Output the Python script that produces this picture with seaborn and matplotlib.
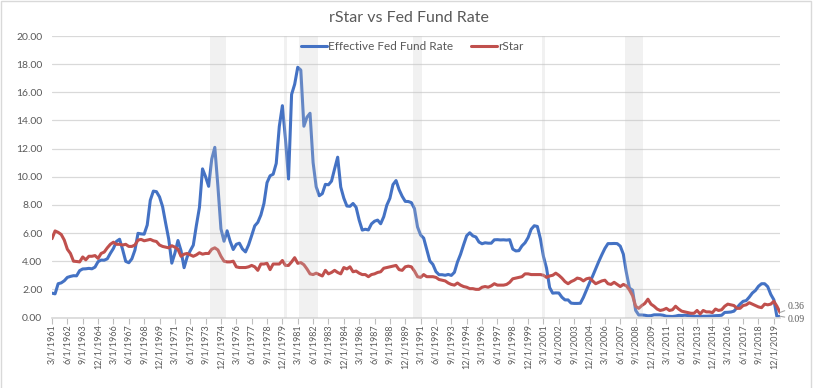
import matplotlib
matplotlib.use("Agg")
import matplotlib.pyplot as plt
import seaborn as sns
import pandas as pd
from matplotlib.patches import Rectangle

# quarterly series, first label 3/1/1961
first_year = 1961
quarter_months = [3, 6, 9, 12]

fed_fund_rate = [
    1.73, 1.68, 2.40, 2.46, 2.61, 2.85, 2.92, 2.97, 2.96, 3.33,
    3.45, 3.46, 3.49, 3.46, 3.58, 3.97, 4.08, 4.07, 4.17, 4.56,
    4.91, 5.41, 5.56, 4.82, 3.99, 3.89, 4.17, 4.79, 5.98, 5.94,
    5.92, 6.57, 8.33, 8.98, 8.94, 8.57, 7.88, 6.70, 5.57, 3.86,
    4.56, 5.47, 4.75, 3.54, 4.30, 4.74, 5.14, 6.54, 7.82, 10.56,
    10.00, 9.32, 11.25, 12.09, 9.35, 6.30, 5.42, 6.16, 5.41, 4.83,
    5.20, 5.28, 4.87, 4.66, 5.16, 5.82, 6.51, 6.76, 7.28, 8.10,
    9.58, 10.07, 10.18, 10.95, 13.58, 15.05, 12.69, 9.84, 15.85, 16.57,
    17.78, 17.58, 13.59, 14.23, 14.51, 11.01, 9.29, 8.65, 8.80, 9.46,
    9.43, 9.69, 10.56, 11.39, 9.27, 8.48, 7.92, 7.90, 8.10, 7.83,
    6.92, 6.21, 6.27, 6.22, 6.65, 6.84, 6.92, 6.66, 7.16, 7.98,
    8.47, 9.44, 9.73, 9.08, 8.61, 8.25, 8.24, 8.16, 7.74, 6.43,
    5.86, 5.64, 4.82, 4.02, 3.77, 3.26, 3.04, 3.04, 3.00, 3.06,
    2.99, 3.21, 3.94, 4.49, 5.17, 5.81, 6.02, 5.80, 5.72, 5.36,
    5.24, 5.31, 5.28, 5.28, 5.52, 5.53, 5.51, 5.52, 5.50, 5.53,
    4.86, 4.73, 4.75, 5.09, 5.31, 5.68, 6.27, 6.52, 6.47, 5.59,
    4.33, 3.50, 2.13, 1.73, 1.75, 1.74, 1.44, 1.25, 1.25, 1.02,
    1.00, 1.00, 1.01, 1.43, 1.95, 2.47, 2.94, 3.46, 3.98, 4.46,
    4.91, 5.25, 5.25, 5.26, 5.25, 5.07, 4.50, 3.18, 2.09, 1.94,
    0.51, 0.18, 0.18, 0.16, 0.12, 0.13, 0.19, 0.19, 0.19, 0.16,
    0.09, 0.08, 0.07, 0.10, 0.15, 0.14, 0.16, 0.14, 0.12, 0.08,
    0.09, 0.07, 0.09, 0.09, 0.10, 0.11, 0.13, 0.14, 0.16, 0.36,
    0.37, 0.39, 0.45, 0.70, 0.95, 1.15, 1.20, 1.45, 1.74, 1.92,
    2.22, 2.40, 2.40, 2.19, 1.64, 1.26, 0.06, 0.09,
]

r_star = [
    5.60, 6.15, 6.05, 5.90, 5.50, 4.85, 4.55, 4.00, 3.98, 3.95,
    4.30, 4.10, 4.35, 4.35, 4.40, 4.20, 4.55, 4.65, 4.95, 5.20,
    5.35, 5.20, 5.20, 5.15, 5.20, 5.05, 5.05, 5.15, 5.50, 5.55,
    5.45, 5.50, 5.55, 5.45, 5.40, 5.15, 5.05, 5.00, 4.95, 5.10,
    5.00, 4.85, 4.35, 4.50, 4.55, 4.45, 4.35, 4.45, 4.60, 4.50,
    4.55, 4.55, 4.85, 4.95, 4.80, 4.35, 4.00, 3.95, 3.95, 4.00,
    3.60, 3.55, 3.55, 3.55, 3.60, 3.70, 3.60, 3.35, 3.80, 3.80,
    3.85, 3.40, 3.80, 3.80, 3.80, 4.05, 3.70, 3.70, 3.95, 4.25,
    3.85, 3.90, 3.75, 3.45, 3.10, 3.05, 3.15, 3.05, 2.95, 3.35,
    3.10, 3.20, 3.35, 3.20, 3.10, 3.55, 3.45, 3.60, 3.25, 3.30,
    3.15, 3.05, 3.05, 2.90, 3.05, 3.10, 3.20, 3.25, 3.50, 3.55,
    3.60, 3.65, 3.70, 3.40, 3.35, 3.60, 3.65, 3.60, 3.30, 2.90,
    2.85, 3.05, 2.90, 2.90, 2.90, 2.85, 2.70, 2.65, 2.60, 2.45,
    2.35, 2.30, 2.45, 2.30, 2.20, 2.15, 2.05, 2.05, 2.00, 2.00,
    2.15, 2.20, 2.15, 2.25, 2.40, 2.30, 2.30, 2.30, 2.35, 2.50,
    2.75, 2.80, 2.85, 2.90, 3.10, 3.10, 3.05, 3.05, 3.05, 3.05,
    3.00, 2.85, 2.95, 3.00, 3.15, 3.00, 2.80, 2.55, 2.40, 2.55,
    2.65, 2.80, 2.75, 2.60, 2.75, 2.80, 2.60, 2.40, 2.50, 2.60,
    2.65, 2.40, 2.35, 2.50, 2.35, 2.20, 2.35, 2.25, 1.95, 1.55,
    0.80, 0.65, 0.85, 1.00, 1.30, 0.95, 0.80, 0.60, 0.50, 0.55,
    0.65, 0.50, 0.55, 0.80, 0.60, 0.45, 0.40, 0.35, 0.30, 0.30,
    0.50, 0.25, 0.50, 0.40, 0.40, 0.35, 0.60, 0.50, 0.55, 0.80,
    0.95, 0.90, 0.85, 0.65, 0.65, 0.85, 0.90, 1.05, 0.95, 0.85,
    0.75, 0.70, 0.95, 0.90, 0.95, 1.15, 0.80, 0.36,
]

# recession quarters (first, last) by position in the series
recessions = [(52, 56), (76, 76), (81, 86), (118, 120), (160, 160), (187, 192)]

n = len(fed_fund_rate)
labels = [f"{quarter_months[i % 4]}/1/{first_year + i // 4}" for i in range(n)]

df = pd.DataFrame({
    "quarter": list(range(n)) * 2,
    "rate": fed_fund_rate + r_star,
    "series": ["Effective Fed Fund Rate"] * n + ["rStar"] * n,
})

sns.set_theme(style="white")
plt.rcParams["font.family"] = ["Lato", "DejaVu Sans"]

text_grey = "#595959"
fig = plt.figure(figsize=(8.18, 3.88), dpi=100)
ax = fig.add_axes([52 / 818, 1 - 317.5 / 388, 728 / 818, (317.5 - 36) / 388])

sns.lineplot(data=df, x="quarter", y="rate", hue="series",
             palette={"Effective Fed Fund Rate": "#4472C4", "rStar": "#C0504D"},
             linewidth=2.2, ax=ax, zorder=2)

for start, end in recessions:
    ax.axvspan(start - 0.5, end + 0.5, color="#c8c8c8", alpha=0.25, lw=0, zorder=3)

ax.set_xlim(0, n - 1)
ax.set_ylim(0, 20)
ax.set_yticks(range(0, 21, 2))
ax.set_yticklabels([f"{v:.2f}" for v in range(0, 21, 2)])
ax.set_xticks(range(0, n, 5))
ax.set_xticklabels(labels[::5], rotation=90)
ax.grid(axis="y", color="#d9d9d9", lw=0.9)
ax.set_axisbelow(True)
ax.set_xlabel("")
ax.set_ylabel("")
for side in ["left", "right", "top"]:
    ax.spines[side].set_visible(False)
ax.spines["bottom"].set_color("#d9d9d9")
ax.tick_params(axis="y", length=0, pad=7, labelsize=7.5, labelcolor=text_grey)
ax.tick_params(axis="x", bottom=True, length=4, width=0.8, color="#bfbfbf",
               pad=1, labelsize=6.5, labelcolor=text_grey)

handles, names = ax.get_legend_handles_labels()
ax.legend(handles, names, loc="upper center", bbox_to_anchor=(0.495, 1.02), ncol=2,
          frameon=False, fontsize=8.5, handlelength=2.2, handletextpad=0.1,
          columnspacing=1.5, labelcolor=text_grey)

ax.annotate(f"{r_star[-1]:.2f}", xy=(n - 1, r_star[-1]), xytext=(8, 6),
            textcoords="offset pixels", ha="left", va="center", fontsize=7,
            family="Liberation Serif", color=text_grey, annotation_clip=False,
            arrowprops=dict(arrowstyle="-", color="#a6a6a6", lw=0.8, shrinkA=0, shrinkB=0))
ax.annotate(f"{fed_fund_rate[-1]:.2f}", xy=(n - 1, fed_fund_rate[-1]), xytext=(8, -3),
            textcoords="offset pixels", ha="left", va="center", fontsize=7,
            family="Liberation Serif", color=text_grey, annotation_clip=False,
            arrowprops=dict(arrowstyle="-", color="#a6a6a6", lw=0.8, shrinkA=0, shrinkB=0))

fig.text(0.5, 1 - 18 / 388, "rStar vs Fed Fund Rate", ha="center", va="center",
         fontsize=11.5, color=text_grey)
fig.patches.append(Rectangle((0.5 / 818, -0.02), 810 / 818, 1.02 - 0.5 / 388,
                             transform=fig.transFigure, fill=False,
                             edgecolor="#d9d9d9", lw=1))

fig.savefig("out.png", dpi=100)
